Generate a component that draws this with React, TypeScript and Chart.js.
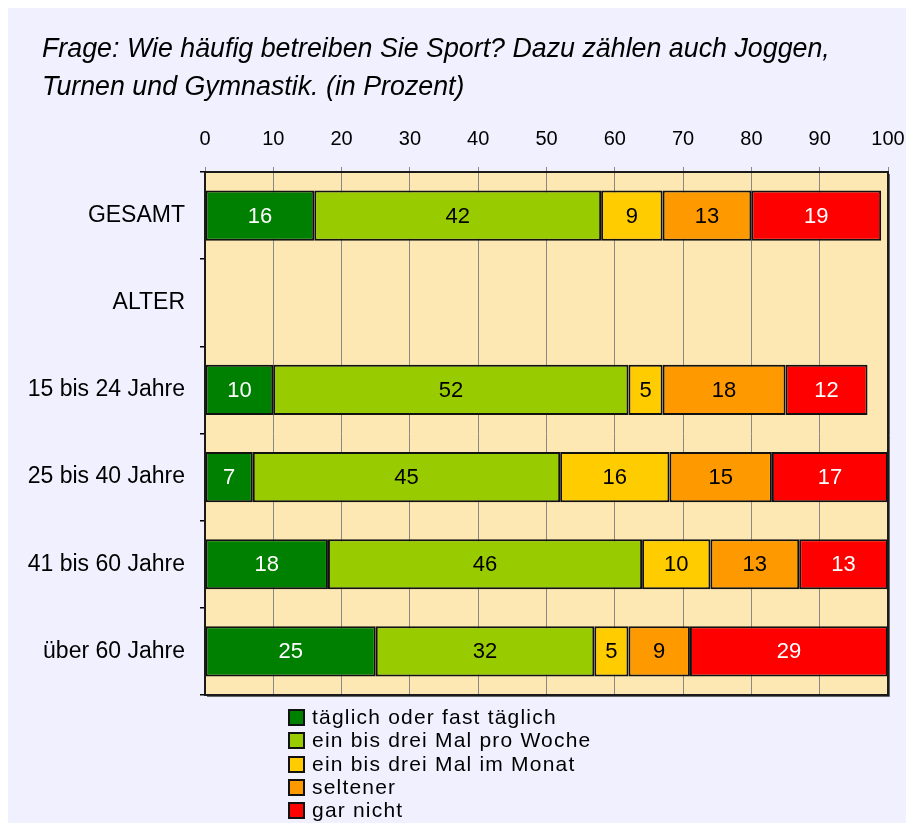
import React, { useEffect, useRef } from 'react';
import { Chart, registerables } from 'chart.js';

Chart.register(...registerables);

const titleLines = [
  'Frage: Wie häufig betreiben Sie Sport? Dazu zählen auch Joggen,',
  'Turnen und Gymnastik. (in Prozent)',
];

const categories = [
  'GESAMT',
  'ALTER',
  '15 bis 24 Jahre',
  '25 bis 40 Jahre',
  '41 bis 60 Jahre',
  'über 60 Jahre',
];

const taeglich = [16, null, 10, 7, 18, 25];
const proWoche = [42, null, 52, 45, 46, 32];
const imMonat = [9, null, 5, 16, 10, 5];
const seltener = [13, null, 18, 15, 13, 9];
const garNicht = [19, null, 12, 17, 13, 29];

const seriesLabels = [
  'täglich oder fast täglich',
  'ein bis drei Mal pro Woche',
  'ein bis drei Mal im Monat',
  'seltener',
  'gar nicht',
];
const seriesValues = [taeglich, proWoche, imMonat, seltener, garNicht];
const seriesColors = ['#008000', '#99cc00', '#ffcc00', '#ff9900', '#ff0000'];
const valueLabelColors = ['#ffffff', '#000000', '#000000', '#000000', '#ffffff'];

const xMin = 0;
const xMax = 100;
const xStep = 10;

const PANEL_BG = '#f0f0ff';
const PLOT_BG = '#fde8b3';
const FONT = '"Liberation Sans", Arial, Helvetica, sans-serif';

const plotBgPlugin = {
  id: 'plotBg',
  beforeDraw(chart: any) {
    const { ctx, chartArea: a } = chart;
    ctx.save();
    ctx.fillStyle = PLOT_BG;
    ctx.fillRect(a.left, a.top, a.right - a.left, a.bottom - a.top);
    ctx.restore();
  },
  afterDraw(chart: any) {
    const { ctx, chartArea: a } = chart;
    ctx.save();
    ctx.strokeStyle = '#666666';
    ctx.lineWidth = 1;
    ctx.beginPath();
    ctx.moveTo(a.right + 1.5, a.top + 2);
    ctx.lineTo(a.right + 1.5, a.bottom + 1.5);
    ctx.lineTo(a.left + 2, a.bottom + 1.5);
    ctx.stroke();
    ctx.strokeStyle = '#1a1a1a';
    ctx.lineWidth = 2;
    ctx.strokeRect(a.left, a.top, a.right - a.left, a.bottom - a.top);
    ctx.restore();
  },
};

const valueLabelPlugin = {
  id: 'valueLabels',
  afterDatasetsDraw(chart: any) {
    const { ctx } = chart;
    ctx.save();
    ctx.font = `22px ${FONT}`;
    ctx.textAlign = 'center';
    ctx.textBaseline = 'middle';
    chart.data.datasets.forEach((ds: any, i: number) => {
      const meta = chart.getDatasetMeta(i);
      meta.data.forEach((el: any, j: number) => {
        const v = ds.data[j];
        if (v === null || v === undefined) return;
        const p = el.getCenterPoint();
        ctx.fillStyle = valueLabelColors[i];
        ctx.fillText(String(v), p.x, p.y + 1);
      });
    });
    ctx.restore();
  },
};

export default function App() {
  const canvasRef = useRef<HTMLCanvasElement | null>(null);

  useEffect(() => {
    if (!canvasRef.current) return;
    const chart = new Chart(canvasRef.current, {
      type: 'bar',
      data: {
        labels: categories,
        datasets: seriesValues.map((vals, i) => ({
          label: seriesLabels[i],
          data: vals,
          backgroundColor: seriesColors[i],
          borderColor: '#111111',
          borderWidth: 2,
          borderSkipped: false,
          barPercentage: 0.575,
          categoryPercentage: 1,
        })),
      },
      options: {
        indexAxis: 'y',
        responsive: false,
        animation: false,
        devicePixelRatio: 1,
        layout: { padding: { top: 104, right: 18, bottom: 128, left: 0 } },
        plugins: {
          legend: { display: false },
          tooltip: { enabled: false },
          title: { display: false },
        },
        scales: {
          x: {
            type: 'linear',
            position: 'top',
            stacked: true,
            min: xMin,
            max: xMax,
            ticks: {
              stepSize: xStep,
              color: '#000000',
              font: { family: FONT, size: 20 },
              padding: 16,
              maxRotation: 0,
            },
            grid: { color: '#888888', lineWidth: 1, tickLength: 5 },
            border: { display: false },
            afterFit(scale: any) {
              scale.height = 60;
              scale.paddingLeft = 0;
              scale.paddingRight = 0;
            },
          },
          y: {
            type: 'category',
            stacked: true,
            ticks: {
              color: '#000000',
              font: { family: FONT, size: 23 },
              padding: 15,
            },
            grid: {
              offset: true,
              drawOnChartArea: false,
              color: '#000000',
              lineWidth: 1.5,
              tickLength: 5,
            },
            border: { display: false },
            afterFit(scale: any) {
              scale.width = 197;
              scale.paddingTop = 0;
              scale.paddingBottom = 0;
            },
          },
        },
      },
      plugins: [plotBgPlugin, valueLabelPlugin],
    } as any);
    return () => chart.destroy();
  }, []);

  return (
    <div
      style={{
        position: 'fixed',
        left: 8,
        top: 8,
        right: 0,
        bottom: 0,
        background: PANEL_BG,
        overflow: 'hidden',
        fontFamily: FONT,
      }}
    >
      <canvas
        ref={canvasRef}
        width={898}
        height={815}
        style={{ position: 'absolute', left: 0, top: 0, width: 898, height: 815, display: 'block' }}
      />
      <div
        style={{
          position: 'absolute',
          left: 34,
          top: 21,
          fontStyle: 'italic',
          fontSize: 26.8,
          lineHeight: '38px',
          color: '#000000',
          whiteSpace: 'pre',
        }}
      >
        {titleLines.map((t, i) => (
          <div key={i}>{t}</div>
        ))}
      </div>
      <div style={{ position: 'absolute', left: 280, top: 697 }}>
        {seriesLabels.map((lab, i) => (
          <div
            key={i}
            style={{
              display: 'flex',
              alignItems: 'flex-start',
              height: 23.3,
              fontSize: 21,
              lineHeight: '23.3px',
              letterSpacing: 1.2,
              color: '#000000',
              whiteSpace: 'pre',
            }}
          >
            <span
              style={{
                display: 'inline-block',
                boxSizing: 'border-box',
                width: 17,
                height: 17,
                marginTop: 4,
                marginRight: 7,
                background: seriesColors[i],
                border: '2px solid #111111',
              }}
            />
            <span>{lab}</span>
          </div>
        ))}
      </div>
    </div>
  );
}
